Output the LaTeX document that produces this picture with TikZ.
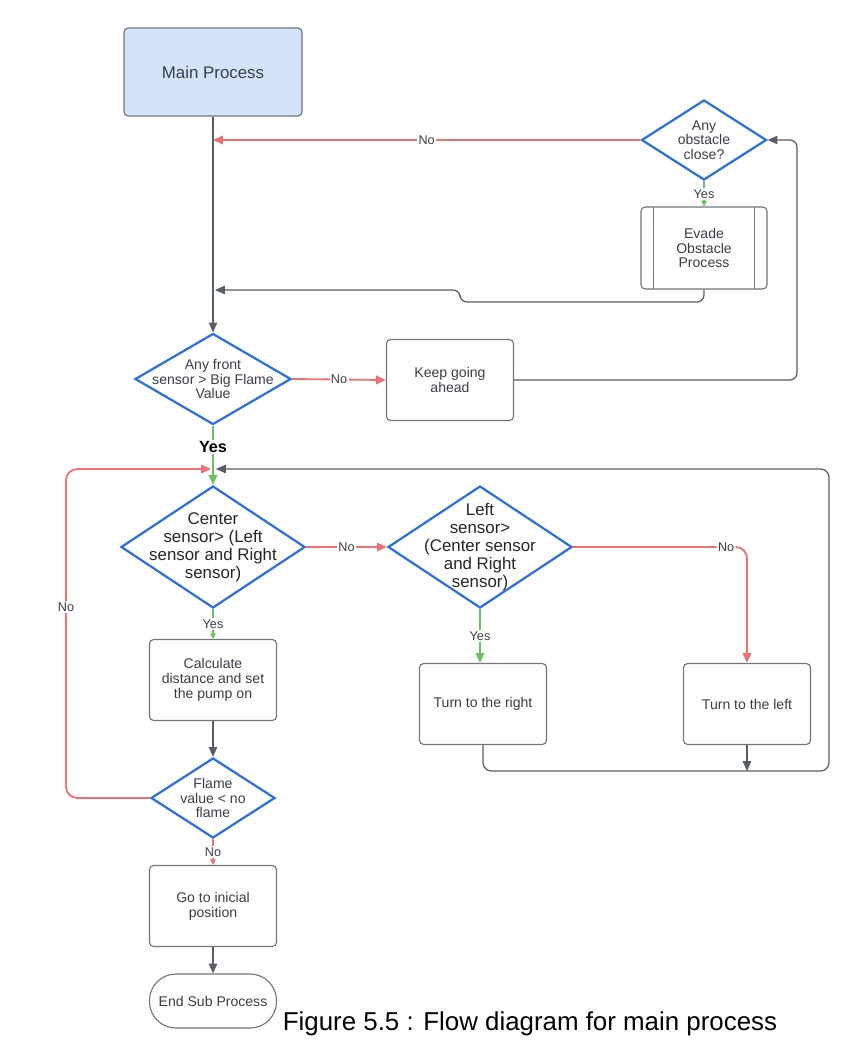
\documentclass[tikz,border=0pt]{standalone}
\usepackage{fontspec}
\setmainfont{Liberation Sans}
\usetikzlibrary{shapes.geometric,arrows.meta,positioning}
\definecolor{flowblue}{RGB}{45,112,226}
\definecolor{flowred}{RGB}{238,112,112}
\definecolor{flowgreen}{RGB}{104,196,96}
\definecolor{linegrey}{RGB}{88,93,102}
\definecolor{boxgrey}{RGB}{112,117,126}
\definecolor{textgrey}{RGB}{58,63,72}
\definecolor{mainfill}{RGB}{211,227,250}

\begin{document}
\begin{tikzpicture}[x=0.025cm, y=-0.025cm,
    process/.style={rectangle, rounded corners=3pt, draw=boxgrey, line width=0.8pt, fill=white,
                    minimum width=3.175cm, minimum height=2.025cm, align=center, text=textgrey,
                    font=\fontsize{10}{10.5}\selectfont},
    mainbox/.style={process, fill=mainfill, minimum width=4.45cm, minimum height=2.2cm,
                    font=\fontsize{12}{13}\selectfont},
    subproc/.style={process, minimum width=3.15cm, minimum height=2.05cm,
                    path picture={\draw[boxgrey, line width=0.8pt]
                      ([xshift=0.32cm]path picture bounding box.north west) -- ([xshift=0.32cm]path picture bounding box.south west)
                      ([xshift=-0.32cm]path picture bounding box.north east) -- ([xshift=-0.32cm]path picture bounding box.south east);}},
    terminal/.style={process, rounded corners=0.66cm, minimum height=1.35cm},
    decision/.style={diamond, draw=flowblue, line width=1.6pt, fill=white, inner sep=0pt},
    smalltext/.style={align=center, text=textgrey, font=\fontsize{10}{10.5}\selectfont},
    bigtext/.style={align=center, text=black!85, font=\fontsize{12}{12.8}\selectfont},
    flow/.style={draw=linegrey, line width=0.9pt, -{Triangle[length=7pt,width=6pt]}},
    noline/.style={flow, draw=flowred, line width=1.3pt},
    yesline/.style={flow, draw=flowgreen, line width=1.3pt},
    tinytip/.style={-{Triangle[length=4pt,width=4pt]}},
    lbl/.style={fill=white, inner sep=1pt, text=textgrey, font=\fontsize{9}{10}\selectfont},
    caption/.style={font=\fontsize{18.4}{20}\selectfont, text=black}
]
    \useasboundingbox (0,0) rectangle (864,1052);

    \node[mainbox] (main) at (213,72) {Main Process};

    \node[decision, minimum width=3.125cm, minimum height=2cm,
          label={[smalltext]center:{Any\\obstacle\\close?}}] (obst) at (704,140) {};
    \node[subproc] (evade) at (704,248) {Evade\\Obstacle\\Process};

    \node[decision, minimum width=3.9cm, minimum height=2.275cm,
          label={[smalltext]center:{Any front\\sensor > Big Flame\\Value}}] (front) at (213,379) {};
    \node[process] (keep) at (450,380) {Keep going\\ahead};

    \node[decision, minimum width=4.6cm, minimum height=3.05cm,
          label={[bigtext]center:{Center\\sensor> (Left\\sensor and Right\\sensor)}}] (center) at (213,547) {};
    \node[decision, minimum width=4.6cm, minimum height=3.05cm,
          label={[bigtext]center:{Left\\sensor>\\(Center sensor\\and Right\\sensor)}}] (left) at (480,547) {};

    \node[process] (turnR) at (483,704) {Turn to the right};
    \node[process] (turnL) at (747,704) {Turn to the left};

    \node[process] (calc) at (213,680) {Calculate\\distance and set\\the pump on};
    \node[decision, minimum width=3.1cm, minimum height=2cm,
          label={[smalltext]center:{Flame\\value < no\\flame}}] (flame) at (213,798) {};
    \node[process] (home) at (213,906) {Go to inicial\\position};
    \node[terminal] (endsub) at (213,1001) {End Sub Process};

    \node[caption] (cap) at (530,1024) {Figure 5.5 : Flow diagram for main process};

    \coordinate (joinA) at (215,290);
    \coordinate (joinR) at (211,469);
    \coordinate (joinG) at (216,469);

    \draw[flow] (main.south) -- (front.north);
    \draw[noline] (obst.west) -- node[lbl]{No} (obst.west -| main.south);
    \draw[yesline, tinytip] (obst.south) -- node[lbl]{Yes} (evade.north);
    \draw[flow, rounded corners=5pt] (evade.south) |- (460,302) |- (joinA);

    \draw[noline] (front.east) -- node[lbl]{No} (keep.west);
    \draw[flow, rounded corners=5pt] (keep.east) -| (797,140) -- (obst.east);
    \draw[yesline] (front.south) -- node[lbl, pos=0.36, text=black, font=\fontsize{11.5}{12}\selectfont\bfseries]{Yes} (center.north);

    \draw[noline] (center.east) -- node[lbl]{No} (left.west);
    \draw[noline, rounded corners=8pt] (left.east) -| node[lbl, pos=0.44]{No} (turnL.north);
    \draw[yesline] (left.south) -- node[lbl]{Yes} (left.south |- turnR.north);
    \draw[flow, rounded corners=6pt] (turnR.south) |- (829,771) |- (joinG);
    \draw[flow] (turnL.south) -- ++(0,26);

    \draw[yesline, tinytip] (center.south) -- node[lbl]{Yes} (calc.north);
    \draw[flow] (calc.south) -- (flame.north);
    \draw[noline, rounded corners=8pt] (flame.west) -| node[lbl, pos=0.79]{No} (66,469) -- (joinR);
    \draw[noline, tinytip] (flame.south) -- node[lbl]{No} (home.north);
    \draw[flow] (home.south) -- (endsub.north);
\end{tikzpicture}
\end{document}
